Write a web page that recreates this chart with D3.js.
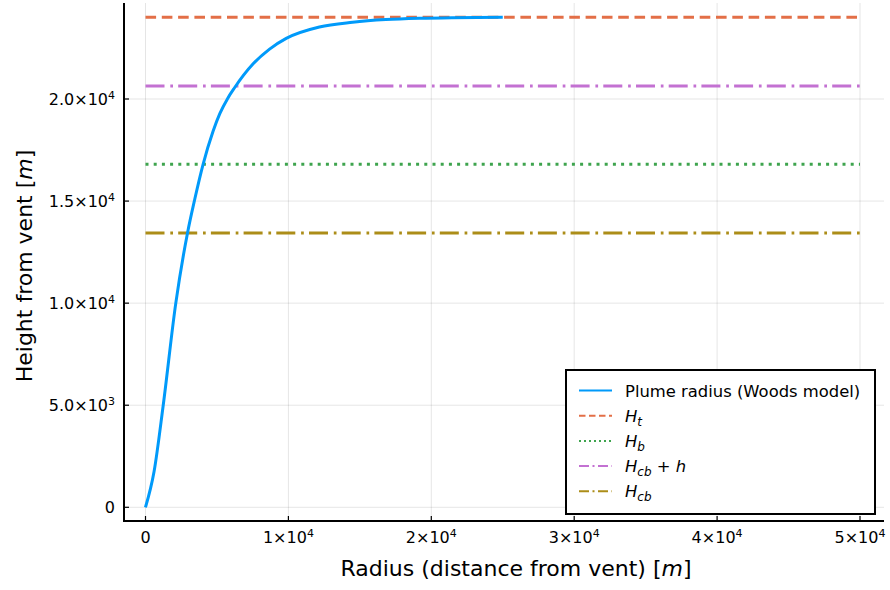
<!DOCTYPE html>
<html><head><meta charset="utf-8">
<script src="https://cdn.jsdelivr.net/npm/d3@7"></script>
<style>body{margin:0;background:#fff}svg{display:block}text{font-family:"DejaVu Sans",sans-serif;fill:#000}</style>
</head><body><svg id="c" width="890" height="590"></svg>
<script>
// ---- data ----
const radius = [0, 600, 1240, 2120, 2940, 3450, 4030, 4728, 5200, 5750, 6220, 7517, 8682, 9847, 12169, 14491, 16820, 19142, 21443, 25000];
const height = [0, 1750, 5000, 10000, 13440, 15100, 16800, 18420, 19280, 20029, 20540, 21711, 22445, 22969, 23526, 23758, 23890, 23955, 23985, 24000];
const levelNames = ["Ht", "Hb", "Hcb+h", "Hcb"];
const levelValues = [24000, 16800, 20640, 13440];
const levelXStart = 0, levelXEnd = 50000;
const xTicks = [0, 10000, 20000, 30000, 40000, 50000];
const xTickLabels = [["0",""], ["1×10","4"], ["2×10","4"], ["3×10","4"], ["4×10","4"], ["5×10","4"]];
const yTicks = [0, 5000, 10000, 15000, 20000];
const yTickLabels = [["0",""], ["5.0×10","3"], ["1.0×10","4"], ["1.5×10","4"], ["2.0×10","4"]];

// ---- layout ----
const L = 124, R = 884, T = 3, B = 521;
const svg = d3.select("#c");
const x = d3.scaleLinear().domain([0, 50000]).range([145.5, 860]);
const y = d3.scaleLinear().domain([0, 20000]).range([507.3, 99]);

// grid
const g = svg.append("g");
g.selectAll(".gx").data(xTicks).join("line")
  .attr("x1", d => x(d)).attr("x2", d => x(d)).attr("y1", T).attr("y2", B)
  .attr("stroke", "#000").attr("stroke-opacity", 0.1).attr("stroke-width", 1);
g.selectAll(".gy").data(yTicks).join("line")
  .attr("y1", d => y(d)).attr("y2", d => y(d)).attr("x1", L).attr("x2", R)
  .attr("stroke", "#000").attr("stroke-opacity", 0.1).attr("stroke-width", 1);

// level lines
const colors = {"curve": "#009AFA", "Ht": "#E36F47", "Hb": "#3EA44E", "Hcb+h": "#C371D2", "Hcb": "#AC8D18"};
const dashes = {"Ht": "10.6 5.7", "Hb": "3 5.2", "Hcb+h": "19 5.8 2.7 5.2", "Hcb": "19 5.8 2.7 5.2"};
levelNames.forEach((n, i) => {
  svg.append("line")
    .attr("x1", x(levelXStart)).attr("x2", x(levelXEnd))
    .attr("y1", y(levelValues[i])).attr("y2", y(levelValues[i]))
    .attr("stroke", colors[n]).attr("stroke-width", 3)
    .attr("stroke-dasharray", dashes[n]);
});

// curve
const pts = radius.map((r, i) => [r, height[i]]);
svg.append("path").datum(pts)
  .attr("d", d3.line().x(d => x(d[0])).y(d => y(d[1])).curve(d3.curveMonotoneX))
  .attr("fill", "none").attr("stroke", colors.curve).attr("stroke-width", 3);

// spines
svg.append("line").attr("x1", L).attr("x2", L).attr("y1", T).attr("y2", B + 1)
  .attr("stroke", "#000").attr("stroke-width", 2);
svg.append("line").attr("x1", L - 1).attr("x2", R).attr("y1", B).attr("y2", B)
  .attr("stroke", "#000").attr("stroke-width", 2);

// ticks (inward)
svg.selectAll(".tx").data(xTicks).join("line")
  .attr("x1", d => x(d)).attr("x2", d => x(d)).attr("y1", B).attr("y2", B - 5)
  .attr("stroke", "#000").attr("stroke-width", 1.2);
svg.selectAll(".ty").data(yTicks).join("line")
  .attr("y1", d => y(d)).attr("y2", d => y(d)).attr("x1", L).attr("x2", L + 5)
  .attr("stroke", "#000").attr("stroke-width", 1.2);

// tick labels
const fs = 16;
xTicks.forEach((t, i) => {
  const tx = svg.append("text").attr("x", x(t)).attr("y", 543).attr("text-anchor", "middle")
    .style("font-size", fs + "px");
  tx.append("tspan").text(xTickLabels[i][0]);
  if (xTickLabels[i][1]) tx.append("tspan").attr("dy", -6).style("font-size", "11px").text(xTickLabels[i][1]);
});
yTicks.forEach((t, i) => {
  const tx = svg.append("text").attr("x", 115).attr("y", y(t) + 6).attr("text-anchor", "end")
    .style("font-size", fs + "px");
  tx.append("tspan").text(yTickLabels[i][0]);
  if (yTickLabels[i][1]) tx.append("tspan").attr("dy", -6).style("font-size", "11px").text(yTickLabels[i][1]);
});

// axis labels
const xl = svg.append("text").attr("x", 516).attr("y", 576).attr("text-anchor", "middle").style("font-size", "22px");
xl.append("tspan").text("Radius (distance from vent) [");
xl.append("tspan").style("font-style", "italic").text("m");
xl.append("tspan").text("]");
const yl = svg.append("text").attr("transform", "translate(32,266) rotate(-90)").attr("text-anchor", "middle").style("font-size", "22px");
yl.append("tspan").text("Height from vent [");
yl.append("tspan").style("font-style", "italic").text("m");
yl.append("tspan").text("]");

// legend
const lg = svg.append("g");
lg.append("rect").attr("x", 566).attr("y", 370).attr("width", 309).attr("height", 144)
  .attr("fill", "#fff").attr("stroke", "#000").attr("stroke-width", 2);
const legKeys = ["curve", "Ht", "Hb", "Hcb+h", "Hcb"];
const legDash = {"curve": null, "Ht": "6.5 3.5", "Hb": "2 3", "Hcb+h": "10 3.5 2 3.5", "Hcb": "10 3.5 2 3.5"};
legKeys.forEach((k, i) => {
  const cy = 390.5 + i * 25.2;
  lg.append("line").attr("x1", 579).attr("x2", 612).attr("y1", cy).attr("y2", cy)
    .attr("stroke", colors[k]).attr("stroke-width", 2).attr("stroke-dasharray", legDash[k]);
  const t = lg.append("text").attr("x", 625).attr("y", cy + 6).style("font-size", "16.4px");
  if (k === "curve") { t.text("Plume radius (Woods model)"); return; }
  t.append("tspan").style("font-style", "italic").text("H");
  const sub = {"Ht": "t", "Hb": "b", "Hcb+h": "cb", "Hcb": "cb"}[k];
  t.append("tspan").attr("dy", 4).style("font-style", "italic").style("font-size", "12px").text(sub);
  if (k === "Hcb+h") {
    t.append("tspan").attr("dy", -4).text(" + ");
    t.append("tspan").style("font-style", "italic").text("h");
  }
});
</script></body></html>
